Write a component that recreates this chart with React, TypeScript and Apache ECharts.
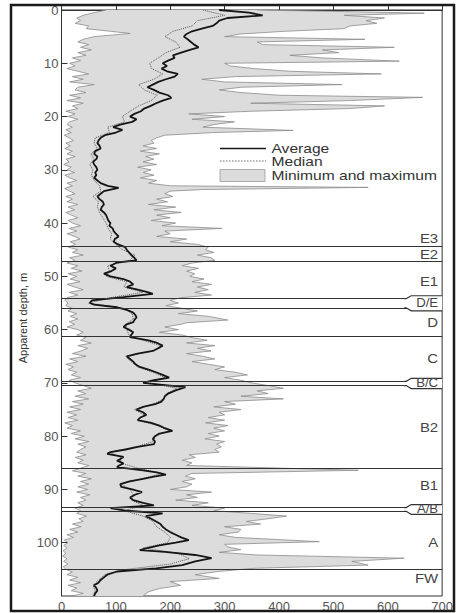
import React, { useEffect, useRef } from "react";
import * as echarts from "echarts";

// [depth (m), value]
const avgProfile: [number, number][] = [
  [0, 290], [0.5, 345], [1, 370], [1.5, 305], [2, 290], [2.5, 285], [3, 278], [3.5, 258], [4, 240], [4.5, 230],
  [5, 225], [5.5, 232], [6, 238], [6.5, 244], [7, 252], [7.5, 236], [8, 220], [8.5, 205], [9, 208], [9.5, 196],
  [10, 186], [10.5, 194], [11, 184], [11.5, 194], [12, 214], [12.5, 208], [13, 192], [13.5, 178], [14, 168], [14.5, 158],
  [15, 170], [15.5, 180], [16, 196], [16.5, 202], [17, 186], [17.5, 174], [18, 164], [18.5, 152], [19, 146], [19.5, 134],
  [20, 126], [20.5, 138], [21, 130], [21.5, 108], [22, 95], [22.5, 112], [23, 100], [23.5, 80], [24, 72], [24.5, 68],
  [25, 66], [25.5, 70], [26, 72], [26.5, 62], [27, 60], [27.5, 66], [28, 64], [28.5, 58], [29, 60], [29.5, 64],
  [30, 66], [30.5, 62], [31, 64], [31.5, 60], [32, 66], [32.5, 72], [33, 85], [33.4, 105], [34, 78], [34.5, 72],
  [35, 66], [35.5, 70], [36, 76], [36.5, 78], [37, 74], [37.5, 72], [38, 78], [38.5, 82], [39, 84], [39.5, 86],
  [40, 90], [40.5, 88], [41, 94], [41.5, 96], [42, 100], [42.5, 105], [43, 98], [43.5, 96], [44, 104], [44.5, 117],
  [45, 120], [45.5, 124], [46, 128], [46.5, 134], [47, 138], [47.4, 102], [48, 90], [48.5, 100], [49, 92], [49.5, 78],
  [50, 90], [50.5, 114], [51, 126], [51.5, 132], [52, 120], [52.5, 140], [53, 160], [53.3, 168], [53.9, 114], [54.5, 56],
  [55, 52], [55.3, 60], [55.8, 102], [56.3, 120], [56.8, 132], [57.3, 136], [57.7, 138], [58.2, 134], [58.6, 132], [59, 120],
  [59.5, 114], [60, 124], [60.5, 132], [61, 128], [61.4, 126], [62, 160], [62.5, 176], [63, 186], [63.5, 178], [64, 168],
  [64.5, 140], [65, 120], [65.5, 126], [66, 132], [66.5, 136], [67, 144], [67.5, 160], [68, 174], [68.5, 186], [69, 198],
  [69.5, 170], [70, 150], [70.5, 200], [70.8, 228], [71.4, 210], [72, 196], [72.5, 190], [73, 188], [73.5, 184], [74, 172],
  [74.5, 150], [75, 138], [75.5, 150], [76, 156], [76.5, 145], [77, 140], [77.5, 165], [78, 180], [78.5, 190], [79, 204],
  [79.5, 180], [80, 172], [80.5, 168], [81, 172], [81.5, 170], [82, 140], [82.5, 118], [83, 90], [83.3, 84], [83.9, 114],
  [84.3, 108], [84.6, 102], [85.1, 114], [85.5, 106], [85.8, 102], [86.4, 150], [86.8, 175], [87.2, 192], [87.6, 170], [88, 150],
  [88.5, 125], [89, 108], [89.5, 110], [90, 130], [90.5, 148], [91, 135], [91.5, 126], [92, 132], [92.5, 150], [93, 170],
  [93.5, 90], [94, 120], [94.5, 186], [95, 155], [95.5, 165], [96, 174], [96.5, 182], [97, 186], [97.5, 192], [98, 200],
  [98.5, 210], [99, 220], [99.5, 234], [100, 210], [100.5, 180], [101, 158], [101.4, 144], [101.7, 190], [102.3, 246], [102.9, 276],
  [103.5, 246], [104.2, 222], [104.8, 174], [105.4, 102], [106, 84], [106.5, 78], [107, 72], [107.5, 68], [108, 60], [108.5, 64],
  [109, 66], [109.5, 62], [110, 60],
];

const medianProfile: [number, number][] = [
  [0, 260], [1, 300], [2, 250], [3, 240], [4, 205], [5, 190], [6, 210], [7, 218], [8, 192], [9, 178],
  [10, 162], [11, 166], [12, 186], [13, 170], [14, 142], [15, 152], [16, 176], [17, 165], [18, 142], [19, 126],
  [20, 112], [21, 116], [22, 85], [23, 88], [24, 62], [25, 60], [26, 66], [27, 54], [28, 60], [29, 52],
  [30, 58], [31, 55], [32, 60], [33, 70], [34, 72], [35, 58], [36, 68], [37, 66], [38, 70], [39, 76],
  [40, 82], [41, 86], [42, 92], [43, 90], [44, 100], [45, 112], [46, 135], [47, 125], [48, 85], [49, 88],
  [50, 82], [51, 120], [52, 115], [53, 150], [54, 90], [55, 50], [56, 115], [57, 130], [58, 132], [59, 118],
  [60, 120], [61, 124], [62, 150], [63, 182], [64, 170], [65, 118], [66, 128], [67, 140], [68, 168], [69, 190],
  [70, 160], [71, 212], [72, 194], [73, 188], [74, 168], [75, 134], [76, 152], [77, 140], [78, 176], [79, 198],
  [80, 172], [81, 168], [82, 138], [83, 88], [84, 110], [85, 108], [86, 140], [87, 185], [88, 148], [89, 110],
  [90, 126], [91, 132], [92, 128], [93, 150], [94, 115], [95, 150], [96, 168], [97, 175], [98, 190], [99, 200],
  [100, 195], [101, 150], [102, 215], [103, 235], [104, 200], [105, 120], [106, 80], [107, 68], [108, 58], [109, 62],
  [110, 58],
];

const maxProfile: [number, number][] = [
  [0, 360], [0.3, 520], [0.6, 667], [1, 520], [1.5, 594], [2, 560], [2.5, 580], [3, 530], [3.5, 520], [4, 410],
  [4.5, 330], [5, 300], [5.5, 558], [6, 360], [6.5, 370], [7, 612], [7.5, 480], [8, 510], [8.5, 420], [9, 480],
  [9.6, 621], [10, 300], [10.5, 310], [11, 354], [11.5, 420], [12, 588], [12.5, 320], [13, 258], [13.5, 300], [14, 516],
  [14.5, 330], [15, 290], [15.5, 330], [16, 400], [16.4, 664], [17, 530], [17.5, 348], [18, 594], [18.5, 530], [19, 350],
  [19.5, 234], [20, 300], [20.5, 240], [21, 318], [21.5, 280], [22, 260], [22.6, 426], [23, 280], [23.5, 190], [24, 175],
  [24.5, 165], [25, 170], [25.5, 150], [26, 175], [26.5, 145], [27, 180], [27.5, 155], [28, 170], [28.5, 150], [29, 175],
  [29.5, 140], [30, 165], [30.5, 150], [31, 170], [31.5, 145], [32, 175], [32.5, 160], [33, 200], [33.3, 564], [33.7, 260],
  [34, 200], [34.5, 190], [35, 205], [35.5, 175], [36, 195], [36.5, 160], [37, 210], [37.5, 170], [38, 220], [38.5, 175],
  [39, 200], [39.5, 165], [40, 210], [40.5, 185], [41, 295], [41.5, 190], [42, 200], [42.5, 175], [43, 230], [43.5, 200],
  [44, 250], [44.5, 270], [45, 265], [45.5, 280], [46, 250], [46.5, 275], [47, 282], [47.5, 240], [48, 222], [48.5, 252],
  [49, 230], [49.5, 245], [50, 236], [50.5, 262], [51, 240], [51.5, 276], [52, 250], [52.5, 270], [53, 245], [53.5, 276],
  [54, 220], [54.5, 200], [55, 215], [55.5, 192], [56, 222], [56.5, 250], [57, 215], [57.5, 270], [58.2, 306], [58.7, 230],
  [59, 220], [59.5, 190], [60, 215], [60.5, 180], [61, 222], [61.5, 240], [62, 268], [62.5, 230], [63, 282], [63.5, 250],
  [64, 275], [64.5, 230], [65, 260], [65.5, 282], [66, 240], [66.5, 270], [67, 300], [67.5, 282], [68, 320], [68.5, 342],
  [69, 300], [69.5, 330], [70, 350], [70.5, 380], [71, 408], [71.5, 360], [72, 380], [72.5, 330], [73, 408], [73.5, 300],
  [74, 320], [74.5, 280], [75, 330], [75.5, 290], [76, 300], [76.5, 270], [77, 300], [77.5, 265], [78, 306], [78.5, 280],
  [79, 300], [79.5, 270], [80, 290], [80.5, 264], [81, 300], [81.5, 285], [82, 294], [82.5, 282], [83, 290], [83.5, 235],
  [84, 246], [84.5, 222], [85, 240], [85.5, 230], [86.4, 546], [87, 240], [87.5, 228], [88, 246], [88.5, 222], [89, 240],
  [89.5, 230], [90, 200], [90.5, 276], [91, 230], [91.5, 250], [92, 210], [92.5, 270], [93, 240], [93.5, 300], [94, 280],
  [94.5, 350], [95, 414], [95.5, 380], [96, 340], [96.5, 366], [97, 300], [97.5, 330], [98, 325], [98.5, 290], [99, 320],
  [99.8, 474], [100.3, 300], [100.8, 306], [101.3, 330], [101.8, 290], [102.3, 360], [102.9, 630], [103.5, 534], [104.2, 564], [104.8, 354],
  [105.4, 288], [106, 246], [106.7, 290], [107.3, 200], [108, 219], [108.6, 180], [109.2, 160], [110, 150],
];

const minProfile: [number, number][] = [
  [0, 82], [0.5, 60], [1, 40], [1.5, 28], [2, 35], [2.5, 25], [3, 50], [3.5, 45], [4, 90], [4.4, 126],
  [5, 60], [5.5, 40], [6, 30], [6.5, 50], [7, 35], [7.5, 55], [8, 30], [8.5, 45], [9, 20], [9.5, 35],
  [10, 15], [10.5, 25], [11, 10], [11.5, 30], [12, 50], [12.5, 20], [13, 40], [13.5, 15], [14, 60], [14.5, 30],
  [15, 25], [15.5, 45], [16, 15], [16.5, 35], [17, 10], [17.5, 40], [18, 20], [18.5, 30], [19, 8], [19.5, 25],
  [20, 12], [20.5, 30], [21, 15], [21.5, 10], [22, 20], [22.5, 8], [23, 18], [23.5, 5], [24, 14], [24.5, 22],
  [25, 8], [25.5, 16], [26, 6], [26.5, 20], [27, 10], [27.5, 25], [28, 8], [28.5, 14], [29, 4], [29.5, 18],
  [30, 10], [30.5, 24], [31, 6], [31.5, 15], [32, 28], [32.5, 10], [33, 20], [33.5, 6], [34, 15], [34.5, 25],
  [35, 8], [35.5, 20], [36, 10], [36.5, 30], [37, 12], [37.5, 24], [38, 8], [38.5, 18], [39, 30], [39.5, 12],
  [40, 20], [40.5, 35], [41, 14], [41.5, 28], [42, 10], [42.5, 24], [43, 34], [43.5, 16], [44, 26], [44.5, 12],
  [45, 30], [45.5, 20], [46, 40], [46.5, 15], [47, 25], [47.5, 10], [48, 30], [48.5, 18], [49, 38], [49.5, 12],
  [50, 28], [50.5, 16], [51, 34], [51.5, 10], [52, 24], [52.5, 40], [53, 14], [53.5, 30], [54, 10], [54.5, 6],
  [55, 12], [55.5, 8], [56, 20], [56.5, 12], [57, 28], [57.5, 16], [58, 30], [58.5, 14], [59, 24], [59.5, 10],
  [60, 30], [60.5, 40], [61, 28], [61.5, 45], [62, 35], [62.5, 55], [63, 30], [63.5, 48], [64, 36], [64.5, 20],
  [65, 45], [65.5, 15], [66, 30], [66.5, 8], [67, 22], [67.5, 12], [68, 28], [68.5, 18], [69, 35], [69.5, 14],
  [70, 25], [70.5, 40], [71, 55], [71.5, 30], [72, 45], [72.5, 25], [73, 50], [73.5, 20], [74, 40], [74.5, 15],
  [75, 35], [75.5, 10], [76, 28], [76.5, 12], [77, 30], [77.5, 6], [78, 20], [78.5, 10], [79, 35], [79.5, 18],
  [80, 42], [80.5, 25], [81, 50], [81.5, 30], [82, 45], [82.5, 35], [83, 28], [83.5, 45], [84, 25], [84.5, 40],
  [85, 30], [85.5, 50], [86, 35], [86.5, 20], [87, 45], [87.5, 30], [88, 55], [88.5, 35], [89, 50], [89.5, 30],
  [90, 48], [90.5, 28], [91, 52], [91.5, 35], [92, 45], [92.5, 30], [93, 40], [93.5, 25], [94, 35], [94.5, 28],
  [95, 46], [95.5, 32], [96, 40], [96.5, 20], [97, 36], [97.5, 15], [98, 30], [98.5, 10], [99, 22], [99.5, 5],
  [100, 12], [100.5, 4], [101, 10], [101.5, 3], [102, 8], [102.5, 2], [103, 10], [103.5, 4], [104, 12], [104.5, 3],
  [105, 8], [105.5, 20], [106, 10], [106.5, 30], [107, 15], [107.5, 35], [108, 12], [108.5, 28], [109, 18], [109.5, 40],
  [110, 20],
];

// zone boundaries (depth, m)
const zoneBoundaries = [44.3, 47.2, 54.2, 55.9, 61.2, 69.7, 70.5, 86.0, 93.4, 94.1, 105.0];
const zoneLabels = ["E3", "E2", "E1", "D", "C", "B2", "B1", "A", "FW"];
const zoneLabelDepths = [42.9, 45.9, 50.9, 58.6, 65.4, 78.3, 89.3, 100.0, 106.6];
const contactLabels = ["D/E", "B/C", "A/B"];
const contactDepths: [number, number][] = [[54.2, 55.9], [69.7, 70.5], [93.4, 94.1]];

const legendLabels = ["Average", "Median", "Minimum and maximum"];

const FONT = '"Liberation Sans", Arial, Helvetica, sans-serif';

const toXY = (p: [number, number][]) => p.map(([d, v]) => [v, d]);

export default function App() {
  const ref = useRef<HTMLDivElement>(null);
  useEffect(() => {
    if (!ref.current) return;
    const chart = echarts.init(ref.current, null, { renderer: "svg" });
    const option: any = {
      animation: false,
      backgroundColor: "#ffffff",
      grid: {
        left: 61.5, right: 6, top: 10, bottom: 16,
        show: true, borderColor: "#333", borderWidth: 1, backgroundColor: "transparent",
      },
      xAxis: {
        type: "value", min: 0, max: 700, interval: 100,
        axisLine: { show: true, lineStyle: { color: "#333", width: 1 } },
        axisTick: { show: true, inside: true, length: 6, lineStyle: { color: "#333" } },
        axisLabel: { color: "#555", fontSize: 13, fontFamily: FONT, margin: 4 },
        splitLine: { show: false },
      },
      yAxis: {
        type: "value", inverse: true, min: 0, max: 110, interval: 10,
        axisLine: { show: true, lineStyle: { color: "#333", width: 1 } },
        axisTick: { show: true, inside: true, length: 6, lineStyle: { color: "#333" } },
        axisLabel: { color: "#555", fontSize: 13, fontFamily: FONT, margin: 3, showMaxLabel: false },
        splitLine: { show: false },
      },
      series: [
        {
          type: "custom",
          name: "Minimum and maximum",
          data: [[0, 0]],
          z: 1,
          silent: true,
          renderItem: (_params: any, api: any) => {
            const pts = [
              ...maxProfile.map(([d, v]) => api.coord([v, d])),
              ...minProfile.slice().reverse().map(([d, v]) => api.coord([v, d])),
            ];
            return { type: "polygon", shape: { points: pts }, style: { fill: "#dcdcdc", stroke: "none" } };
          },
        },
        {
          type: "line", name: "max", data: toXY(maxProfile), symbol: "none", z: 2, silent: true,
          lineStyle: { color: "#8c8c8c", width: 0.8 },
        },
        {
          type: "line", name: "min", data: toXY(minProfile), symbol: "none", z: 2, silent: true,
          lineStyle: { color: "#8c8c8c", width: 0.8 },
        },
        {
          type: "line", name: "Median", data: toXY(medianProfile), symbol: "none", z: 3, silent: true,
          lineStyle: { color: "#555", width: 1, type: "dotted" },
        },
        {
          type: "line", name: "Average", data: toXY(avgProfile), symbol: "none", z: 4, silent: true,
          lineStyle: { color: "#151515", width: 1.8 },
          markLine: {
            silent: true, symbol: ["none", "none"], label: { show: false },
            lineStyle: { color: "#333", width: 1.2, type: "solid" },
            data: zoneBoundaries.map((d) => ({ yAxis: d })),
          },
        },
      ],
    };
    chart.setOption(option);

    const yPix = (d: number) => chart.convertToPixel({ yAxisIndex: 0 }, d) as number;
    const xRight = chart.convertToPixel({ xAxisIndex: 0 }, 700) as number;
    const graphics: any[] = [];

    zoneLabels.forEach((t, i) => {
      graphics.push({
        type: "text", x: xRight - 4, y: yPix(zoneLabelDepths[i]), scaleX: 1.15, z: 20,
        style: { text: t, fill: "#444", font: `13px ${FONT}`, align: "right", verticalAlign: "middle" },
      });
    });

    contactLabels.forEach((t, i) => {
      const yT = yPix(contactDepths[i][0]);
      const yB = yPix(contactDepths[i][1]);
      const xL = xRight - 36;
      const pts = [[xL, yT], [xL + 5, yT - 3], [xRight, yT - 3], [xRight, yB + 3], [xL + 5, yB + 3], [xL, yB]];
      graphics.push({ type: "polygon", z: 18, shape: { points: pts }, style: { fill: "#fff", stroke: "none" } });
      graphics.push({
        type: "polyline", z: 19, shape: { points: [[xL - 2, yT], [xL, yT], [xL + 5, yT - 3], [xRight, yT - 3]] },
        style: { stroke: "#333", lineWidth: 1.2, fill: "none" },
      });
      graphics.push({
        type: "polyline", z: 19, shape: { points: [[xL - 2, yB], [xL, yB], [xL + 5, yB + 3], [xRight, yB + 3]] },
        style: { stroke: "#333", lineWidth: 1.2, fill: "none" },
      });
      graphics.push({
        type: "text", x: xRight - 4, y: (yT + yB) / 2, scaleX: 1.1, z: 20,
        style: { text: t, fill: "#444", font: `12px ${FONT}`, align: "right", verticalAlign: "middle" },
      });
    });

    // legend
    const lgX = 220, lgY = [148.5, 161, 175.5];
    graphics.push({ type: "line", z: 20, shape: { x1: lgX, y1: lgY[0], x2: lgX + 46, y2: lgY[0] }, style: { stroke: "#151515", lineWidth: 1.6 } });
    graphics.push({ type: "line", z: 20, shape: { x1: lgX, y1: lgY[1], x2: lgX + 46, y2: lgY[1] }, style: { stroke: "#666", lineWidth: 1, lineDash: [1.5, 1.5] } });
    graphics.push({ type: "rect", z: 20, shape: { x: lgX, y: 169.5, width: 45, height: 12 }, style: { fill: "#dcdcdc", stroke: "#999", lineWidth: 0.8 } });
    legendLabels.forEach((t, i) => {
      graphics.push({
        type: "text", x: 271.5, y: lgY[i], scaleX: 1.2, z: 20,
        style: { text: t, fill: "#333", font: `13px ${FONT}`, align: "left", verticalAlign: "middle" },
      });
    });

    // y-axis name
    graphics.push({
      type: "text", x: 23, y: 318, rotation: Math.PI / 2, z: 20,
      style: { text: "Apparent depth, m", fill: "#333", font: `11px ${FONT}`, align: "center", verticalAlign: "middle" },
    });

    // outer frame
    graphics.push({
      type: "rect", z: 30, silent: true, shape: { x: 11, y: 5, width: 443, height: 606 },
      style: { fill: "none", stroke: "#1a1a1a", lineWidth: 2.5 },
    });

    chart.setOption({ graphic: graphics });
    return () => chart.dispose();
  }, []);
  return (
    <div
      ref={ref}
      style={{ position: "fixed", left: 0, top: 0, width: 456, height: 613, background: "#fff" }}
    />
  );
}
